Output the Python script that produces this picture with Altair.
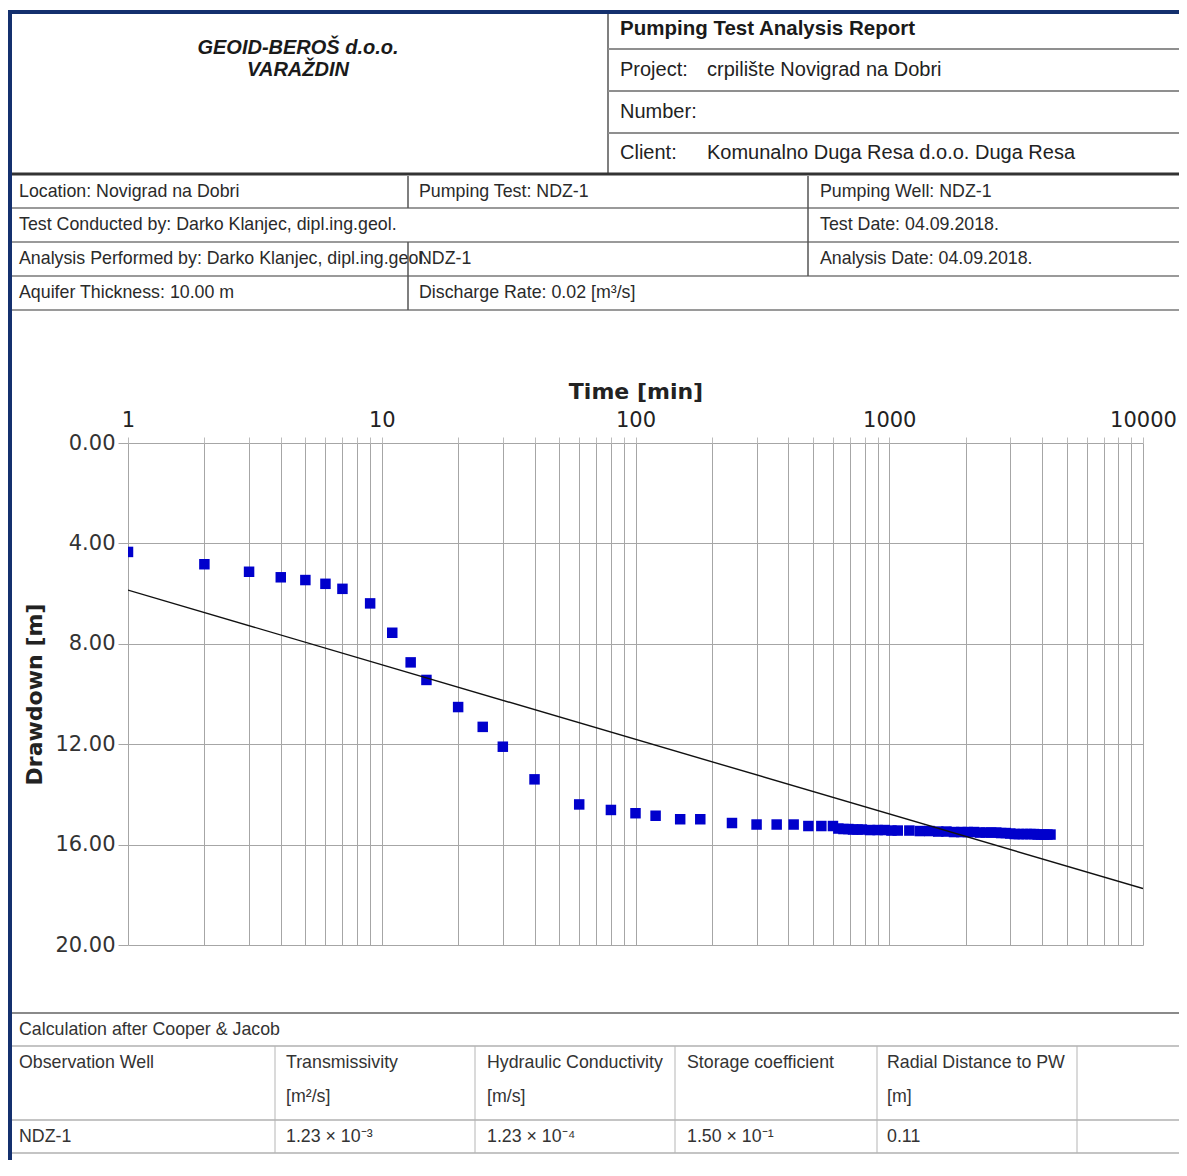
import altair as alt
import pandas as pd

# ---------------- data ----------------
time_min = [1, 2, 3, 4, 5, 6, 7, 9, 11, 13, 15, 20, 25, 30, 40, 60, 80, 100,
            120, 150, 180, 240, 300, 360, 420, 480, 540, 600,
            630, 660, 690, 720, 750, 780, 840, 900, 960, 1020, 1080,
            1200, 1320, 1440, 1560, 1680, 1800, 1920, 2040, 2160, 2280, 2400,
            2520, 2640, 2760, 2880, 3000, 3120, 3240, 3360, 3480, 3600, 3720,
            3840, 3960, 4080, 4200, 4320]
drawdown_m = [4.34, 4.83, 5.13, 5.35, 5.46, 5.61, 5.81, 6.39, 7.56, 8.74, 9.44,
              10.52, 11.31, 12.10, 13.40, 14.40, 14.62, 14.75,
              14.85, 14.99, 14.99, 15.14, 15.20, 15.20, 15.20, 15.26, 15.26, 15.26,
              15.36, 15.38, 15.38, 15.40, 15.40, 15.40, 15.42, 15.42, 15.42, 15.44, 15.44,
              15.44, 15.46, 15.46, 15.48, 15.48, 15.50, 15.50, 15.50, 15.50, 15.52, 15.52,
              15.52, 15.52, 15.54, 15.54, 15.56, 15.58, 15.58, 15.58, 15.58, 15.58, 15.58,
              15.60, 15.60, 15.60, 15.60, 15.60]

fit_time = [1, 10000]
fit_drawdown = [5.86, 17.75]

x_grid_values = [1, 2, 3, 4, 5, 6, 7, 8, 9,
                 10, 20, 30, 40, 50, 60, 70, 80, 90,
                 100, 200, 300, 400, 500, 600, 700, 800, 900,
                 1000, 2000, 3000, 4000, 5000, 6000, 7000, 8000, 9000, 10000]
x_label_values = [1, 10, 100, 1000, 10000]
y_tick_values = [0, 4, 8, 12, 16, 20]

company_lines = ["GEOID-BEROŠ d.o.o.", "VARAŽDIN"]
report_title = "Pumping Test Analysis Report"
header_labels = ["Project:", "Number:", "Client:"]
header_values = ["crpilište Novigrad na Dobri", "", "Komunalno Duga Resa d.o.o. Duga Resa"]

info_texts = ["Location: Novigrad na Dobri", "Pumping Test: NDZ-1", "Pumping Well: NDZ-1",
              "Test Conducted by: Darko Klanjec, dipl.ing.geol.", "Test Date: 04.09.2018.",
              "Analysis Performed by: Darko Klanjec, dipl.ing.geol.", "NDZ-1",
              "Analysis Date: 04.09.2018.",
              "Aquifer Thickness: 10.00 m", "Discharge Rate: 0.02 [m³/s]"]

calc_title = "Calculation after Cooper & Jacob"
calc_headers = ["Observation Well", "Transmissivity", "Hydraulic Conductivity",
                "Storage coefficient", "Radial Distance to PW"]
calc_units = ["", "[m²/s]", "[m/s]", "", "[m]"]
calc_values = ["NDZ-1", "1.23 × 10⁻³", "1.23 × 10⁻⁴", "1.50 × 10⁻¹", "0.11"]

assert len(time_min) == len(drawdown_m)

# ---------------- layout (page pixels -> plot pixels) ----------------
PX0, PY0 = 128, 443          # page position of plot origin
PLOT_W, PLOT_H = 1015, 502
RIGHT = 1179
BOTTOM = 1160


def px(v):
    return v - PX0


def py(v):
    return v - PY0


NAVY = "#14306e"
rules = []


def rule(x1, y1, x2, y2, color, w):
    rules.append(dict(x=px(x1), x2=px(x2), y=py(y1), y2=py(y2), c=color, w=w))


# page frame
rule(8, 12, RIGHT, 12, NAVY, 4)
rule(10, 10, 10, BOTTOM, NAVY, 4)
# header
rule(608, 14, 608, 173, "#555555", 1.5)
for yy in [49, 91, 133]:
    rule(608, yy, RIGHT, yy, "#8f8f8f", 2)
rule(12, 174, RIGHT, 174, "#333333", 3)
# info table
for yy in [208, 242, 276, 310]:
    rule(12, yy, RIGHT, yy, "#9a9a9a", 2)
rule(408, 176, 408, 208, "#555555", 1.5)
rule(408, 242, 408, 310, "#555555", 1.5)
rule(808, 176, 808, 276, "#555555", 1.5)
# calculation table
rule(12, 1013, RIGHT, 1013, "#8a8a8a", 2)
for yy in [1046, 1120, 1153]:
    rule(12, yy, RIGHT, yy, "#b0b0b0", 1.5)
for xx in [275, 475, 675, 877, 1077]:
    rule(xx, 1046, xx, 1153, "#b5b5b5", 1)

rules_df = pd.DataFrame(rules)

texts = []


def txt(x, y, s, size=17, color="#2a2a2a", align="left"):
    texts.append(dict(x=px(x), y=py(y), t=s, s=size, c=color, a=align))


# header right
for lab, val, yy in zip(header_labels, header_values, [70, 112, 153]):
    txt(620, yy, lab, 20, "#222222")
    if val:
        txt(707, yy, val, 20, "#222222")
# info
info_pos = [(19, 192), (419, 192), (820, 192), (19, 225), (820, 225),
            (19, 259), (419, 259), (820, 259), (19, 293), (419, 293)]
for s, (xx, yy) in zip(info_texts, info_pos):
    txt(xx, yy, s, 17.8, "#2a2a2a")
# calculation
txt(19, 1030, calc_title, 17.8, "#333333")
col_x = [19, 286, 487, 687, 887]
for xx, h, u, v in zip(col_x, calc_headers, calc_units, calc_values):
    txt(xx, 1063, h, 17.8, "#333333")
    if u:
        txt(xx, 1097, u, 17.8, "#333333")
    txt(xx, 1137, v, 17.8, "#333333")

texts_df = pd.DataFrame(texts)

bold_df = pd.DataFrame([dict(x=px(620), y=py(29), t=report_title)])
company_df = pd.DataFrame([dict(x=px(298), y=py(48), t=company_lines[0]),
                           dict(x=px(298), y=py(70), t=company_lines[1])])

FONT = "Liberation Sans, Arial, Helvetica, sans-serif"
AXFONT = "DejaVu Sans, Verdana, sans-serif"

# ---------------- chart ----------------
pts_df = pd.DataFrame({"time": time_min, "drawdown": drawdown_m})
fit_df = pd.DataFrame({"time": fit_time, "drawdown": fit_drawdown})

label_list = ",".join(str(v) for v in x_label_values)
x_enc = alt.X("time:Q",
              scale=alt.Scale(type="log", domain=[1, 10000], nice=False),
              axis=alt.Axis(orient="top", values=x_grid_values,
                            labelExpr=f"indexof([{label_list}], datum.value) >= 0 ? format(datum.value, 'd') : ''",
                            labelOverlap=False, labelFlush=False,
                            title="Time [min]", titleFont=AXFONT, titleFontSize=22,
                            titleFontWeight="bold", titleColor="#222222", titlePadding=6,
                            labelFont=AXFONT, labelFontSize=21, labelColor="#222222",
                            labelPadding=7, tickSize=6, tickColor="#bbbbbb",
                            grid=True, gridColor="#a6a6a6", gridWidth=1, domain=False))
y_enc = alt.Y("drawdown:Q",
              scale=alt.Scale(domain=[0, 20], reverse=True, nice=False, zero=False),
              axis=alt.Axis(values=y_tick_values, format=".2f",
                            title="Drawdown [m]", titleFont=AXFONT, titleFontSize=22,
                            titleFontWeight="bold", titleColor="#222222", titlePadding=8,
                            labelFont=AXFONT, labelFontSize=21, labelColor="#333333",
                            labelPadding=3, tickSize=10, tickColor="#a6a6a6",
                            grid=True, gridColor="#a6a6a6", gridWidth=1, domain=False))

points = alt.Chart(pts_df).mark_square(size=110, color="#0000cc", opacity=1, clip=True).encode(
    x=x_enc, y=y_enc)
fit_line = alt.Chart(fit_df).mark_line(color="#111111", strokeWidth=1.4, clip=True).encode(
    x="time:Q", y="drawdown:Q")

ident_x = lambda f: alt.X(f, type="quantitative", scale=None, axis=None)
ident_y = lambda f: alt.Y(f, type="quantitative", scale=None, axis=None)

rule_layer = alt.Chart(rules_df).mark_rule().encode(
    x=ident_x("x"), x2="x2:Q", y=ident_y("y"), y2="y2:Q",
    color=alt.Color("c:N", scale=None),
    strokeWidth=alt.StrokeWidth("w:Q", scale=None))

text_layer = alt.Chart(texts_df).mark_text(font=FONT, baseline="middle", align="left").encode(
    x=ident_x("x"), y=ident_y("y"), text="t:N",
    size=alt.Size("s:Q", scale=None), color=alt.Color("c:N", scale=None))

bold_layer = alt.Chart(bold_df).mark_text(font=FONT, fontWeight="bold", fontSize=20.5,
                                           baseline="middle", align="left", color="#1a1a1a").encode(
    x=ident_x("x"), y=ident_y("y"), text="t:N")

company_layer = alt.Chart(company_df).mark_text(font=FONT, fontWeight="bold", fontStyle="italic",
                                                 fontSize=20, baseline="middle", align="center",
                                                 color="#1a1a1a").encode(
    x=ident_x("x"), y=ident_y("y"), text="t:N")

chart = alt.layer(points, fit_line, rule_layer, text_layer, bold_layer, company_layer).properties(
    width=PLOT_W, height=PLOT_H,
    padding={"left": 120, "top": 435, "right": 36, "bottom": 215},
    autosize=alt.AutoSizeParams(type="none"),
    background="white",
).configure_view(stroke=None)

chart.save("out.html", embed_options={"renderer": "svg", "actions": False})
